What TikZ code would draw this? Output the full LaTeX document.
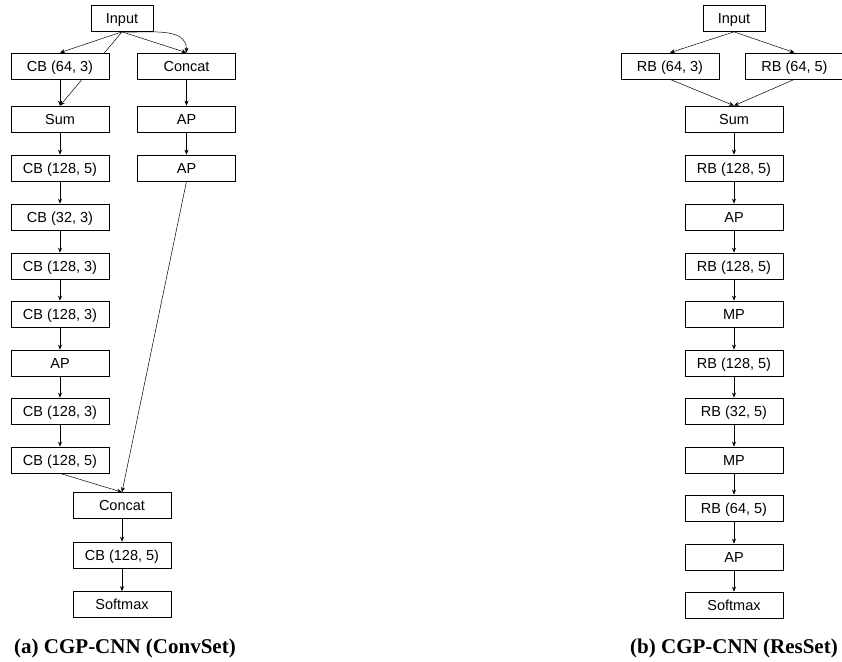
\documentclass[tikz,border=0pt]{standalone}
\usepackage{fontspec}
\newfontfamily\boxfont{Liberation Sans}
\newfontfamily\capfont{Liberation Serif}
\usetikzlibrary{arrows.meta,backgrounds}
\tikzset{
  blk/.style={draw, line width=0.7pt, fill=white, minimum width=98pt, minimum height=26pt, inner sep=0pt, text height=10.4pt, text depth=0pt, font=\boxfont\fontsize{14.5}{16}\selectfont},
  inbox/.style={blk, minimum width=62pt},
  conn/.style={line width=0.5pt, -{Stealth[length=5pt,width=4pt]}},
  capt/.style={font=\capfont\bfseries\fontsize{21}{24}\selectfont}
}
\begin{document}
\begin{tikzpicture}[x=1pt,y=-1pt]
\useasboundingbox (0,0) rectangle (842,661);
% left
\node[inbox] (lin) at (122,18.5) {Input};
\node[blk] (l1) at (60,66) {CB (64, 3)};
\node[blk] (lc1) at (186.5,66) {Concat};
\node[blk] (l2) at (60,119) {Sum};
\node[blk] (lap1) at (186.5,119) {AP};
\node[blk] (lap2) at (186.5,168) {AP};
\node[blk] (l3) at (60,168) {CB (128, 5)};
\node[blk] (l4) at (60,217) {CB (32, 3)};
\node[blk] (l5) at (60,266) {CB (128, 3)};
\node[blk] (l6) at (60,314) {CB (128, 3)};
\node[blk] (l7) at (60,363) {AP};
\node[blk] (l8) at (60,411) {CB (128, 3)};
\node[blk] (l9) at (60,460) {CB (128, 5)};
\node[blk] (lc2) at (122,505.5) {Concat};
\node[blk] (l10) at (122,555) {CB (128, 5)};
\node[blk] (l11) at (122,604.5) {Softmax};
\node[capt] (capa) at (125,648) {(a) CGP-CNN (ConvSet)};
% right
\node[inbox] (rin) at (734,18.5) {Input};
\node[blk] (r1) at (670,66) {RB (64, 3)};
\node[blk] (r2) at (794.5,66) {RB (64, 5)};
\node[blk] (r3) at (734,119) {Sum};
\node[blk] (r4) at (734,168) {RB (128, 5)};
\node[blk] (r5) at (734,217) {AP};
\node[blk] (r6) at (734,266) {RB (128, 5)};
\node[blk] (r7) at (734,314) {MP};
\node[blk] (r8) at (734,363) {RB (128, 5)};
\node[blk] (r9) at (734,411) {RB (32, 5)};
\node[blk] (r10) at (734,460) {MP};
\node[blk] (r11) at (734,508) {RB (64, 5)};
\node[blk] (r12) at (734,557) {AP};
\node[blk] (r13) at (734,605) {Softmax};
\node[capt] (capb) at (734,648) {(b) CGP-CNN (ResSet)};
\begin{scope}[on background layer]
\draw[conn] (lin.south) -- (l1.north);
\draw[conn] (lin.south) -- (l2.north);
\draw[conn] (lin.south) -- (lc1.north);
\draw[conn] (lin.south) to[out=-3,in=90] (lc1.north);
\draw[conn] (l1) -- (l2);
\draw[conn] (l2) -- (l3);
\draw[conn] (l3) -- (l4);
\draw[conn] (l4) -- (l5);
\draw[conn] (l5) -- (l6);
\draw[conn] (l6) -- (l7);
\draw[conn] (l7) -- (l8);
\draw[conn] (l8) -- (l9);
\draw[conn] (l9.south) -- (lc2.north);
\draw[conn] (lc1) -- (lap1);
\draw[conn] (lap1) -- (lap2);
\draw[conn] (lap2.south) -- (lc2.north);
\draw[conn] (lc2) -- (l10);
\draw[conn] (l10) -- (l11);
\draw[conn] (rin.south) -- (r1.north);
\draw[conn] (rin.south) -- (r2.north);
\draw[conn] (r1.south) -- (r3.north);
\draw[conn] (r2.south) -- (r3.north);
\draw[conn] (r3) -- (r4);
\draw[conn] (r4) -- (r5);
\draw[conn] (r5) -- (r6);
\draw[conn] (r6) -- (r7);
\draw[conn] (r7) -- (r8);
\draw[conn] (r8) -- (r9);
\draw[conn] (r9) -- (r10);
\draw[conn] (r10) -- (r11);
\draw[conn] (r11) -- (r12);
\draw[conn] (r12) -- (r13);
\end{scope}
\end{tikzpicture}
\end{document}
